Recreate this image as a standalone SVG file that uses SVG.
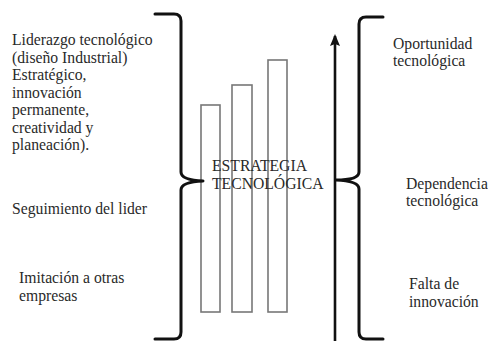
<svg xmlns="http://www.w3.org/2000/svg" width="488" height="341" viewBox="0 0 488 341" font-family="'Liberation Serif', 'DejaVu Serif', serif">
<style>
text{font-family:'Liberation Serif', 'DejaVu Serif', serif;font-size:15.7px;fill:#2a2a2a}
.brace{fill:none;stroke:#111;stroke-width:3;stroke-linejoin:round;stroke-linecap:round}
.bar{fill:none;stroke:#777;stroke-width:1.6}
</style>
<defs>
<marker id="ah" markerWidth="12" markerHeight="10" refX="10" refY="5" orient="auto" markerUnits="userSpaceOnUse" viewBox="0 0 12 10">
<path d="M0,0 L12,5 L0,10 L2,5 Z" fill="#111"/>
</marker>
</defs>
<rect width="488" height="341" fill="#fff"/>
<g id="bars">
<rect class="bar" x="201" y="105" width="19" height="207"/>
<rect class="bar" x="232" y="85" width="20" height="227"/>
<rect class="bar" x="268" y="60" width="19" height="252"/>
</g>
<g id="connectors">
<path class="brace" d="M155,14 L174,14 Q181,14 181,21 L181,172 Q181,180 203,181 Q181,182 181,190 L181,332 Q181,339 174,339 L155,339"/>
<path class="brace" d="M383,17 L366,17 Q359,17 359,24 L359,172 Q359,180 336,180 Q359,181 359,189 L359,332 Q359,339 366,339 L383,339"/>
<line x1="335" y1="341" x2="335" y2="36" stroke="#111" stroke-width="2.6" marker-end="url(#ah)"/>
</g>
<g id="left-labels" font-family="Liberation Serif, serif">
<text x="12" y="45">Liderazgo tecnológico</text>
<text x="12" y="62.5">(diseño Industrial)</text>
<text x="12" y="80">Estratégico,</text>
<text x="12" y="97.5">innovación</text>
<text x="12" y="115">permanente,</text>
<text x="12" y="132.5">creatividad y</text>
<text x="12" y="150">planeación).</text>
<text x="12" y="214">Seguimiento del lider</text>
<text x="19" y="283">Imitación a otras</text>
<text x="19" y="301">empresas</text>
</g>
<g id="center-label">
<text x="212" y="171">ESTRATEGIA</text>
<text x="212" y="189">TECNOLÓGICA</text>
</g>
<g id="right-labels">
<text x="393" y="49">Oportunidad</text>
<text x="393" y="66">tecnológica</text>
<text x="406" y="189">Dependencia</text>
<text x="406" y="206">tecnológica</text>
<text x="409" y="289">Falta de</text>
<text x="409" y="307">innovación</text>
</g>
</svg>
